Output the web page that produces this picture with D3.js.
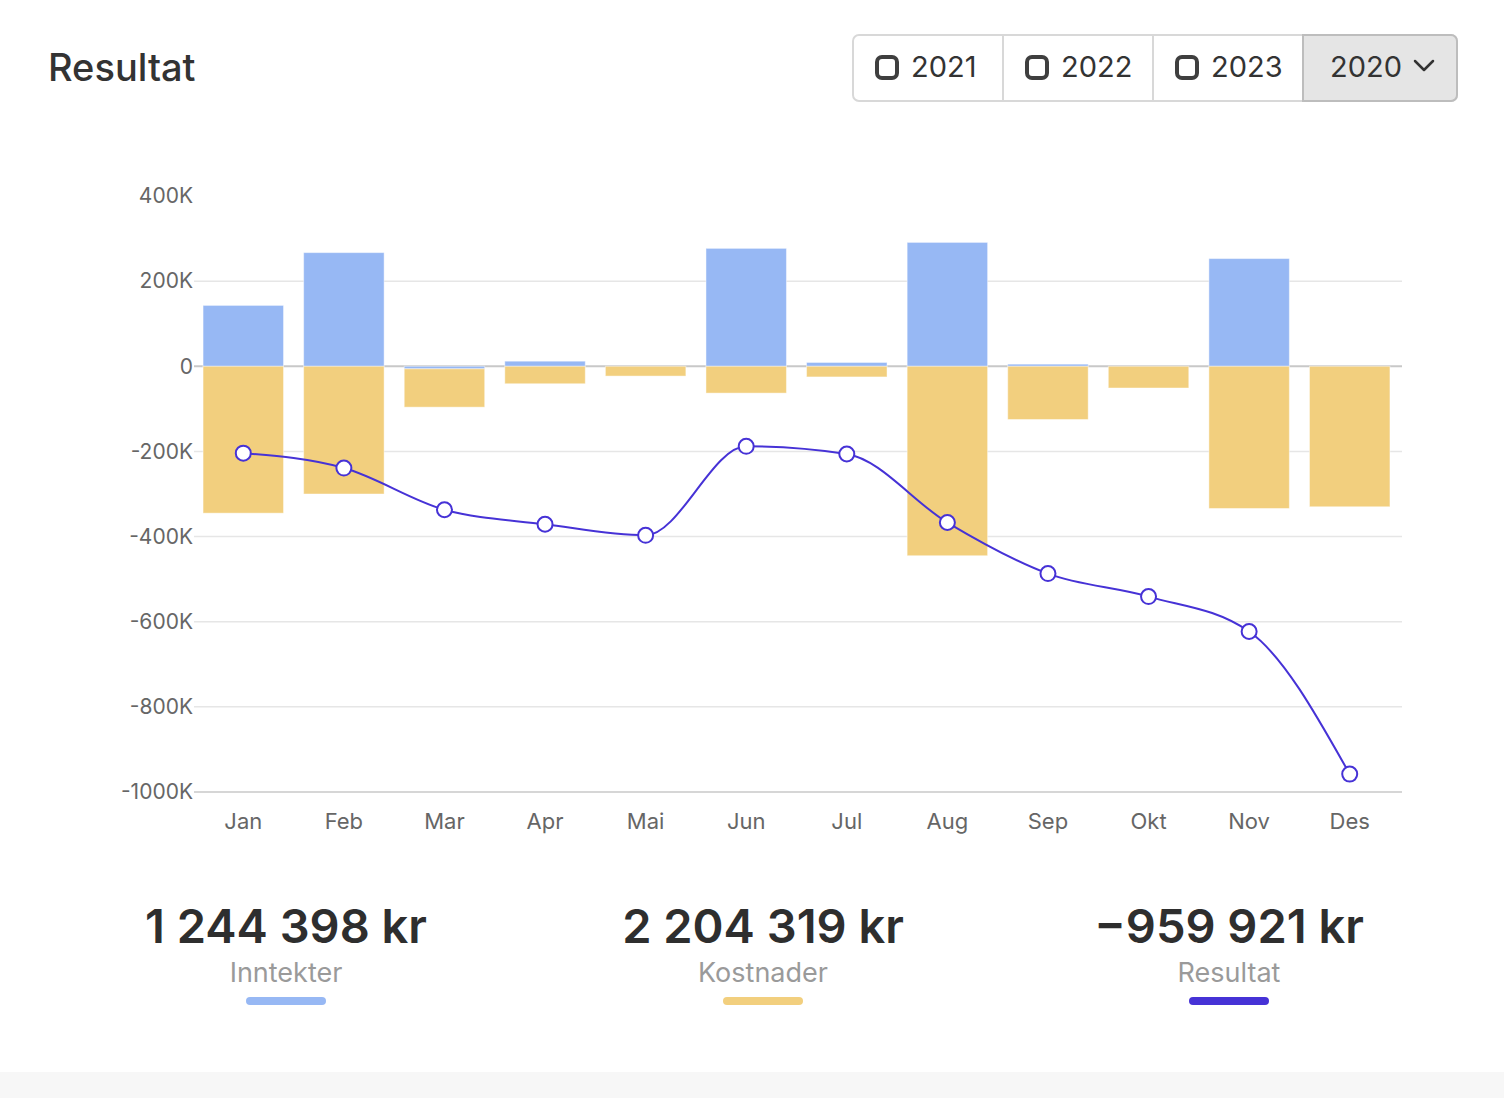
<!DOCTYPE html>
<html>
<head>
<meta charset="utf-8">
<script src="https://cdn.jsdelivr.net/npm/d3@7"></script>
<style>
  html, body { margin: 0; padding: 0; background: #fff; }
  svg { display: block; font-family: Inter, "Noto Sans", sans-serif; }
</style>
</head>
<body>
<div id="chart"></div>
<script>
// data (kr)
const months = ["Jan", "Feb", "Mar", "Apr", "Mai", "Jun", "Jul", "Aug", "Sep", "Okt", "Nov", "Des"];
const inntekter = [143000, 267000, -6000, 12000, 0, 277000, 9000, 291000, 5000, 0, 253000, 0];
const kostnader = [-345000, -300000, -90000, -41000, -23000, -63000, -25000, -445000, -125000, -51000, -334000, -330000];
const resultat = [-204000, -239000, -337000, -371000, -397000, -188000, -206000, -367000, -487000, -541000, -623000, -958000];
const yTicks = [400000, 200000, 0, -200000, -400000, -600000, -800000, -1000000];
const years = ["2021", "2022", "2023"];
const selectedYear = "2020";
const totalLabels = ["Inntekter", "Kostnader", "Resultat"];
const totalValues = [1244398, 2204319, -959921];

const colors = {inntekter: "#97b8f4", kostnader: "#f2cf7e", resultat: "#4632d6"};
const W = 1504, H = 1098;

const svg = d3.select("#chart").append("svg")
    .attr("width", W)
    .attr("height", H);

// page strip at bottom
svg.append("rect")
    .attr("x", 0).attr("y", 1072)
    .attr("width", W).attr("height", H - 1072)
    .attr("fill", "#f7f7f7");

// title
svg.append("text")
    .attr("x", 48).attr("y", 81)
    .attr("font-size", 38)
    .attr("font-weight", 500)
    .attr("fill", "#333")
    .text("Resultat");

// year buttons
const btnX = 853, btnY = 35, btnW = 150, btnH = 66;
const btns = svg.append("g");
btns.append("rect")
    .attr("x", btnX).attr("y", btnY)
    .attr("width", btnW * 4 + 4).attr("height", btnH)
    .attr("rx", 6)
    .attr("fill", "#fff")
    .attr("stroke", "#d8d8d8")
    .attr("stroke-width", 2);
// selected (dropdown) segment
btns.append("path")
    .attr("d", `M${btnX + btnW * 3},${btnY} h${btnW - 2} a6,6 0 0 1 6,6 v${btnH - 12} a6,6 0 0 1 -6,6 h${-(btnW - 2)} Z`)
    .attr("fill", "#e5e5e5")
    .attr("stroke", "#bdbdbd")
    .attr("stroke-width", 2);

years.forEach((yr, i) => {
    const x0 = btnX + i * btnW;
    if (i > 0) {
        btns.append("line")
            .attr("x1", x0).attr("x2", x0)
            .attr("y1", btnY).attr("y2", btnY + btnH)
            .attr("stroke", "#d8d8d8").attr("stroke-width", 2);
    }
    btns.append("rect")
        .attr("x", x0 + 24).attr("y", btnY + 22)
        .attr("width", 20).attr("height", 21)
        .attr("rx", 5)
        .attr("fill", "none")
        .attr("stroke", "#3f3f3f")
        .attr("stroke-width", 4);
    btns.append("text")
        .attr("x", x0 + 58).attr("y", btnY + 42)
        .attr("font-size", 29)
        .attr("fill", "#333")
        .text(yr);
});
btns.append("text")
    .attr("x", btnX + btnW * 3 + 27).attr("y", btnY + 42)
    .attr("font-size", 29)
    .attr("fill", "#333")
    .text(selectedYear);
btns.append("polyline")
    .attr("points", `${btnX + btnW * 3 + 112},${btnY + 26} ${btnX + btnW * 3 + 121},${btnY + 35} ${btnX + btnW * 3 + 130},${btnY + 26}`)
    .attr("fill", "none")
    .attr("stroke", "#333")
    .attr("stroke-width", 2.5)
    .attr("stroke-linecap", "round")
    .attr("stroke-linejoin", "round");

// scales
const x = d3.scaleBand()
    .domain(months)
    .range([193, 1400])
    .paddingInner(0.2)
    .paddingOuter(0.1);

const y = d3.scaleLinear()
    .domain([-1000000, 400000])
    .range([792, 196]);

const fmtTick = d => d === 0 ? "0" : `${d / 1000}K`;

// grid
const grid = svg.append("g");
grid.selectAll("line")
    .data(yTicks.filter(d => d !== 400000))
    .join("line")
    .attr("x1", 194).attr("x2", 1402)
    .attr("y1", d => y(d)).attr("y2", d => y(d))
    .attr("stroke", d => (d === 0 || d === -1000000) ? "#c8c8c8" : "#e6e6e6")
    .attr("stroke-width", d => d === 0 ? 2 : 1.5);

// y axis labels
const yAxis = svg.append("g")
    .attr("transform", "translate(193,0)")
    .call(d3.axisLeft(y).tickValues(yTicks).tickFormat(fmtTick).tickSize(0).tickPadding(0));
yAxis.select(".domain").remove();
yAxis.selectAll("text")
    .attr("font-family", "Inter, 'Noto Sans', sans-serif")
    .attr("font-size", 21)
    .attr("fill", "#666");

// x axis labels
const xAxis = svg.append("g")
    .attr("transform", "translate(0,792)")
    .call(d3.axisBottom(x).tickSize(0).tickPadding(21));
xAxis.select(".domain").remove();
xAxis.selectAll("text")
    .attr("font-family", "Inter, 'Noto Sans', sans-serif")
    .attr("font-size", 22)
    .attr("fill", "#666");

// stacked bars
const rows = months.map((m, i) => ({month: m, inntekter: inntekter[i], kostnader: kostnader[i]}));
const stack = d3.stack()
    .keys(["inntekter", "kostnader"])
    .offset(d3.stackOffsetDiverging);
const series = stack(rows);

svg.append("g")
    .selectAll("g")
    .data(series)
    .join("g")
    .attr("fill", d => colors[d.key])
    .selectAll("rect")
    .data(d => d)
    .join("rect")
    .attr("x", d => x(d.data.month))
    .attr("width", x.bandwidth())
    .attr("y", d => y(Math.max(d[0], d[1])))
    .attr("height", d => Math.abs(y(d[0]) - y(d[1])))
    .attr("stroke", "rgba(255,255,255,0.45)")
    .attr("stroke-width", 1);

// resultat line
const cx = m => x(m) + x.bandwidth() / 2;
const line = d3.line()
    .x((d, i) => cx(months[i]))
    .y(d => y(d))
    .curve(d3.curveMonotoneX);

svg.append("path")
    .datum(resultat)
    .attr("d", line)
    .attr("fill", "none")
    .attr("stroke", colors.resultat)
    .attr("stroke-width", 2);

svg.append("g")
    .selectAll("circle")
    .data(resultat)
    .join("circle")
    .attr("cx", (d, i) => cx(months[i]))
    .attr("cy", d => y(d))
    .attr("r", 7.5)
    .attr("fill", "#fff")
    .attr("stroke", colors.resultat)
    .attr("stroke-width", 2);

// totals
const nb = d3.formatLocale({decimal: ",", thousands: " ", grouping: [3], currency: ["", " kr"], minus: "\u2212"});
const fmtKr = d => nb.format(",d")(d) + " kr";
const totalX = [286, 763, 1229];
const totalColors = [colors.inntekter, colors.kostnader, colors.resultat];

const totals = svg.append("g")
    .selectAll("g")
    .data(totalValues)
    .join("g")
    .attr("transform", (d, i) => `translate(${totalX[i]},0)`);

totals.append("text")
    .attr("y", 943)
    .attr("text-anchor", "middle")
    .attr("font-size", 47)
    .attr("font-weight", 600)
    .attr("fill", "#2e2e2e")
    .text(d => fmtKr(d));

totals.append("text")
    .attr("y", 982)
    .attr("text-anchor", "middle")
    .attr("font-size", 27)
    .attr("fill", "#9a9a9a")
    .text((d, i) => totalLabels[i]);

totals.append("rect")
    .attr("x", -40).attr("y", 997)
    .attr("width", 80).attr("height", 8)
    .attr("rx", 4)
    .attr("fill", (d, i) => totalColors[i]);
</script>
</body>
</html>
